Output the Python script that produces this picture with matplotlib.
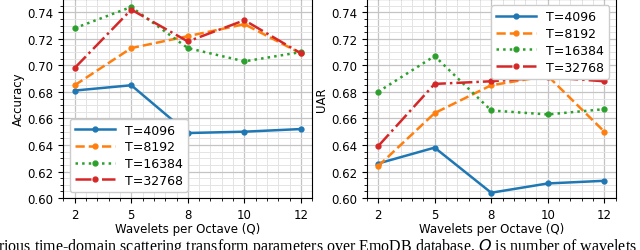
import numpy as np
import matplotlib.pyplot as plt

q_labels = ['2', '5', '8', '10', '12']
series_names = ['T=4096', 'T=8192', 'T=16384', 'T=32768']

acc_4096 = [0.681, 0.685, 0.649, 0.650, 0.652]
acc_8192 = [0.685, 0.713, 0.722, 0.731, 0.709]
acc_16384 = [0.728, 0.744, 0.713, 0.703, 0.710]
acc_32768 = [0.698, 0.742, 0.718, 0.734, 0.709]

uar_4096 = [0.626, 0.638, 0.604, 0.611, 0.613]
uar_8192 = [0.624, 0.664, 0.685, 0.692, 0.650]
uar_16384 = [0.680, 0.707, 0.666, 0.663, 0.667]
uar_32768 = [0.639, 0.686, 0.688, 0.691, 0.688]

caption = ("rious time-domain scattering transform parameters over EmoDB database. "
           "$Q$ is number of wavelets")

styles = [('#1f77b4', '-'), ('#ff7f0e', '--'), ('#2ca02c', ':'), ('#d62728', '-.')]

fig = plt.figure(figsize=(6.4, 2.51), dpi=100)
ax1 = fig.add_axes([0.099, 0.207, 0.389, 0.793])
ax2 = fig.add_axes([0.573, 0.207, 0.389, 0.793])

x = np.arange(len(q_labels))


def draw(ax, data, ylabel, loc):
    for vals, name, (c, ls) in zip(data, series_names, styles):
        ax.plot(x, vals, color=c, linestyle=ls, marker='o', markersize=3.5,
                linewidth=1.8, label=name)
    ax.set_ylim(0.60, 0.75)
    ax.set_yticks([0.60, 0.62, 0.64, 0.66, 0.68, 0.70, 0.72, 0.74])
    ax.set_xticks(x)
    ax.set_xticklabels(q_labels)
    ax.minorticks_on()
    ax.grid(which='major', color='#c4c4c4', linewidth=0.9)
    ax.grid(which='minor', color='#e4e4e4', linewidth=0.7)
    ax.set_axisbelow(True)
    ax.tick_params(labelsize=8.5)
    ax.set_xlabel('Wavelets per Octave (Q)', fontsize=8.5, labelpad=1)
    ax.set_ylabel(ylabel, fontsize=8.5, labelpad=2)
    ax.legend(loc=loc, fontsize=9, handlelength=3.2, labelspacing=0.3,
              borderpad=0.4, framealpha=1.0)


draw(ax1, [acc_4096, acc_8192, acc_16384, acc_32768], 'Accuracy', 'lower left')
draw(ax2, [uar_4096, uar_8192, uar_16384, uar_32768], 'UAR', 'upper right')

fig.text(-0.003, 0.055, caption, fontsize=11.5, family='Liberation Serif',
         va='top', ha='left')

plt.savefig('out.png', dpi=100)
